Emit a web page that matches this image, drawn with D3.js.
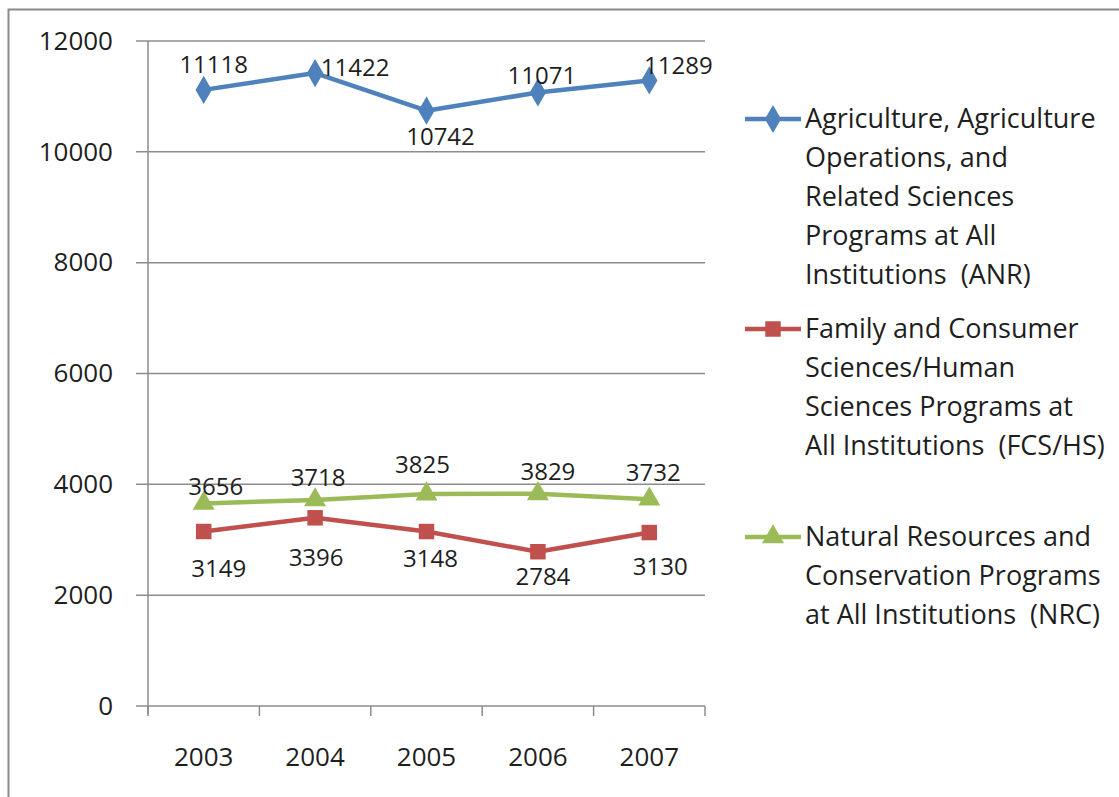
<!DOCTYPE html>
<html>
<head>
<meta charset="utf-8">
<script src="https://cdn.jsdelivr.net/npm/d3@7"></script>
<style>
  body { margin: 0; background: #fff; }
  text { font-family: "Open Sans", Lato, sans-serif; fill: #1e1e1e; }
</style>
</head>
<body>
<svg id="chart"></svg>
<script>
// chart data
var years = ["2003", "2004", "2005", "2006", "2007"];
var anr = [11118, 11422, 10742, 11071, 11289];
var fcs = [3149, 3396, 3148, 2784, 3130];
var nrc = [3656, 3718, 3825, 3829, 3732];
var yTicks = [0, 2000, 4000, 6000, 8000, 10000, 12000];

var seriesNames = [
    ["Agriculture, Agriculture", "Operations, and", "Related Sciences", "Programs at All", "Institutions  (ANR)"],
    ["Family and Consumer", "Sciences/Human", "Sciences Programs at", "All Institutions  (FCS/HS)"],
    ["Natural Resources and", "Conservation Programs", "at All Institutions  (NRC)"]
];

// where each data label sits relative to its point (placed by hand in the original)
var labelOffsets = [
    [[10, -25], [40, -5], [14, 26], [4, -17], [29, -15]],
    [[15, 37], [1, 40], [4, 27], [5, 25], [11, 34]],
    [[12, -17], [3, -22], [-4, -29], [10, -22], [4, -27]]
];

var width = 1119, height = 797;
var margin = {top: 41, left: 148, right: 1119 - 705, bottom: 797 - 706};
var w = width - margin.left - margin.right;
var h = height - margin.top - margin.bottom;

var colors = ["#4f81bd", "#c0504d", "#9bbb59"];
var symbols = [d3.symbolDiamond, d3.symbolSquare, d3.symbolTriangle];
var symbolSizes = [230, 240, 210];

var svg = d3.select("#chart")
    .attr("width", width)
    .attr("height", height);

// outer frame (only top and left edges show in the picture)
svg.append("path")
    .attr("d", "M8.5," + height + "V9.5H" + width)
    .attr("fill", "none")
    .attr("stroke", "#8a8a8a")
    .attr("stroke-width", 2);

var chart = svg.append("g")
    .attr("transform", "translate(" + margin.left + "," + margin.top + ")");

var x = d3.scaleBand()
    .domain(years)
    .range([0, w]);

var y = d3.scaleLinear()
    .domain([0, 12000])
    .range([h, 0]);

// gridlines
chart.append("g")
    .selectAll("line")
    .data(yTicks)
    .enter().append("line")
    .attr("x1", -12)
    .attr("x2", w)
    .attr("y1", function(d) { return y(d); })
    .attr("y2", function(d) { return y(d); })
    .attr("stroke", "#8c8c8c")
    .attr("stroke-width", 1.5);

// y axis
var yAxis = d3.axisLeft(y)
    .tickValues(yTicks)
    .tickFormat(d3.format("d"))
    .tickSize(0)
    .tickPadding(35);

var yg = chart.append("g").call(yAxis);
yg.select(".domain").remove();
yg.selectAll("text")
    .style("font-size", "26px")
    .style("font-family", "'Open Sans', sans-serif")
    .attr("fill", "#1e1e1e");

chart.append("line")
    .attr("x1", 0).attr("x2", 0)
    .attr("y1", 0).attr("y2", h + 8)
    .attr("stroke", "#8c8c8c")
    .attr("stroke-width", 1.5);

// x axis ticks between categories
var xEdges = years.map(function(d) { return x(d); }).concat([w]);
chart.append("g")
    .selectAll("line")
    .data(xEdges)
    .enter().append("line")
    .attr("x1", function(d) { return d; })
    .attr("x2", function(d) { return d; })
    .attr("y1", h)
    .attr("y2", h + 10)
    .attr("stroke", "#8c8c8c")
    .attr("stroke-width", 1.5);

chart.append("g")
    .selectAll("text")
    .data(years)
    .enter().append("text")
    .attr("x", function(d) { return x(d) + x.bandwidth() / 2; })
    .attr("y", h + 51)
    .attr("dy", "0.35em")
    .attr("text-anchor", "middle")
    .style("font-size", "26px")
    .text(function(d) { return d; });

var line = d3.line()
    .x(function(d, i) { return x(years[i]) + x.bandwidth() / 2; })
    .y(function(d) { return y(d); });

var allSeries = [anr, fcs, nrc];

allSeries.forEach(function(values, s) {
    chart.append("path")
        .datum(values)
        .attr("d", line)
        .attr("fill", "none")
        .attr("stroke", colors[s])
        .attr("stroke-width", 4.5)
        .attr("stroke-linejoin", "round");

    chart.selectAll(".pt" + s)
        .data(values)
        .enter().append("path")
        .attr("class", "pt" + s)
        .attr("d", d3.symbol().type(symbols[s]).size(symbolSizes[s]))
        .attr("transform", function(d, i) {
            return "translate(" + (x(years[i]) + x.bandwidth() / 2) + "," + y(d) + ")";
        })
        .attr("fill", colors[s]);

    chart.selectAll(".lbl" + s)
        .data(values)
        .enter().append("text")
        .attr("class", "lbl" + s)
        .attr("x", function(d, i) { return x(years[i]) + x.bandwidth() / 2 + labelOffsets[s][i][0]; })
        .attr("y", function(d, i) { return y(d) + labelOffsets[s][i][1]; })
        .attr("dy", "0.35em")
        .attr("text-anchor", "middle")
        .style("font-size", "24px")
        .text(function(d) { return d; });
});

// legend
var legendTop = [119, 329, 537];
var lineHeight = 39;
seriesNames.forEach(function(lines, s) {
    var g = svg.append("g")
        .attr("transform", "translate(745," + legendTop[s] + ")");
    g.append("line")
        .attr("x1", 0).attr("x2", 56)
        .attr("y1", 0).attr("y2", 0)
        .attr("stroke", colors[s])
        .attr("stroke-width", 4.5);
    g.append("path")
        .attr("d", d3.symbol().type(symbols[s]).size(symbolSizes[s]))
        .attr("transform", "translate(28,0)")
        .attr("fill", colors[s]);
    g.selectAll("text")
        .data(lines)
        .enter().append("text")
        .attr("x", 60)
        .attr("y", function(d, i) { return i * lineHeight; })
        .attr("dy", "0.35em")
        .style("font-size", "27px")
        .style("white-space", "pre")
        .text(function(d) { return d; });
});
</script>
</body>
</html>
